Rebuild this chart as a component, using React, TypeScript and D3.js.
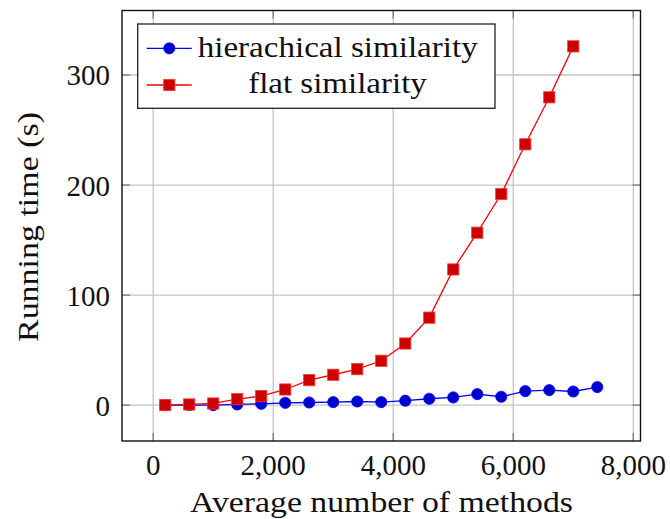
import React from "react";
import * as d3 from "d3";

// average number of methods (x) and running time in seconds (y)
const hierX = [200, 600, 1000, 1400, 1800, 2200, 2600, 3000, 3400, 3800, 4200, 4600, 5000, 5400, 5800, 6200, 6600, 7000, 7400];
const hierY = [0, 0, 0, 0.6, 1.2, 2.1, 2.4, 2.7, 3.3, 2.7, 4, 5.8, 7, 10, 7.6, 12.7, 13.6, 12.4, 16.4];
const flatX = [200, 600, 1000, 1400, 1800, 2200, 2600, 3000, 3400, 3800, 4200, 4600, 5000, 5400, 5800, 6200, 6600, 7000];
const flatY = [0, 0.6, 1.5, 5.4, 8.2, 14.2, 22.7, 27.6, 32.7, 40.3, 56, 79.5, 123.3, 156.7, 191.8, 237, 279.7, 326];

const xTicks = [0, 2000, 4000, 6000, 8000];
const yTicks = [0, 100, 200, 300];
const seriesNames = ["hierachical similarity", "flat similarity"];
const xTitle = "Average number of methods";
const yTitle = "Running time (s)";

const W = 670;
const H = 519;
const FONT = "Liberation Serif";

export default function App() {
  const left = 122, right = 640.5, top = 10.5, bottom = 441;

  // pgfplots-like enlarged limits (10% of data range)
  const xs = d3.scaleLinear().domain([-520, 8120]).range([left, right]);
  const ys = d3.scaleLinear().domain([-32.6, 358.6]).range([bottom, top]);

  const hier = hierX.map((x, i) => [x, hierY[i]] as [number, number]);
  const flat = flatX.map((x, i) => [x, flatY[i]] as [number, number]);
  const line = d3.line<[number, number]>().x(d => xs(d[0])).y(d => ys(d[1]));

  const tickLen = 8;
  const gridColor = "#c4c4c4";
  const tickColor = "#7a7a7a";
  const txt = { fontFamily: FONT, fontSize: 29, fill: "#111" };

  return (
    <svg width={W} height={H} style={{ position: "absolute", left: 0, top: 0, background: "#fff" }}>
      <rect x={0} y={0} width={W} height={H} fill="#fff" />

      {/* grid */}
      {xTicks.map(t => (
        <line key={"gx" + t} x1={xs(t)} x2={xs(t)} y1={top} y2={bottom} stroke={gridColor} strokeWidth={1.3} />
      ))}
      {yTicks.map(t => (
        <line key={"gy" + t} x1={left} x2={right} y1={ys(t)} y2={ys(t)} stroke={gridColor} strokeWidth={1.3} />
      ))}

      {/* inner ticks on all sides */}
      {xTicks.map(t => (
        <g key={"tx" + t} stroke={tickColor} strokeWidth={1.3}>
          <line x1={xs(t)} x2={xs(t)} y1={bottom} y2={bottom - tickLen} />
          <line x1={xs(t)} x2={xs(t)} y1={top} y2={top + tickLen} />
        </g>
      ))}
      {yTicks.map(t => (
        <g key={"ty" + t} stroke={tickColor} strokeWidth={1.3}>
          <line x1={left} x2={left + tickLen} y1={ys(t)} y2={ys(t)} />
          <line x1={right} x2={right - tickLen} y1={ys(t)} y2={ys(t)} />
        </g>
      ))}

      {/* series: hierarchical */}
      <path d={line(hier) || ""} fill="none" stroke="#0000ff" strokeWidth={1.3} />
      {hier.map((d, i) => (
        <circle key={"h" + i} cx={xs(d[0])} cy={ys(d[1])} r={5.6} fill="#0000cc" stroke="#0000ff" strokeWidth={0.8} />
      ))}

      {/* series: flat */}
      <path d={line(flat) || ""} fill="none" stroke="#ff0000" strokeWidth={1.3} />
      {flat.map((d, i) => (
        <rect key={"f" + i} x={xs(d[0]) - 5.6} y={ys(d[1]) - 5.6} width={11.2} height={11.2} fill="#cc0000" stroke="#ff3333" strokeWidth={0.8} />
      ))}

      {/* axis box */}
      <rect x={left} y={top} width={right - left} height={bottom - top} fill="none" stroke="#111" strokeWidth={1.4} />

      {/* tick labels */}
      {xTicks.map(t => (
        <text key={"lx" + t} x={xs(t)} y={474.5} textAnchor="middle" {...txt}>
          {d3.format(",")(t)}
        </text>
      ))}
      {yTicks.map(t => (
        <text key={"ly" + t} x={110} y={ys(t) + 10.5} textAnchor="end" {...txt}>
          {t}
        </text>
      ))}

      {/* axis titles */}
      <text x={381.5} y={511.5} textAnchor="middle" {...txt} textLength={383} lengthAdjust="spacingAndGlyphs">
        {xTitle}
      </text>
      <text transform={`translate(37.5,227) rotate(-90)`} textAnchor="middle" {...txt} textLength={230} lengthAdjust="spacingAndGlyphs">
        {yTitle}
      </text>

      {/* legend */}
      <rect x={137.7} y={24} width={357.3} height={84.3} fill="#fff" stroke="#222" strokeWidth={1.3} />
      <line x1={146.7} x2={191.7} y1={48.3} y2={48.3} stroke="#0000ff" strokeWidth={1.3} />
      <circle cx={169.3} cy={48.3} r={5.6} fill="#0000cc" stroke="#0000ff" strokeWidth={0.8} />
      <line x1={146.7} x2={191.7} y1={85} y2={85} stroke="#ff0000" strokeWidth={1.3} />
      <rect x={169.3 - 5.6} y={85 - 5.6} width={11.2} height={11.2} fill="#cc0000" stroke="#ff3333" strokeWidth={0.8} />
      <text x={197.7} y={56.7} {...txt} textLength={280} lengthAdjust="spacingAndGlyphs">
        {seriesNames[0]}
      </text>
      <text x={337.5} y={93.3} textAnchor="middle" {...txt} textLength={178.7} lengthAdjust="spacingAndGlyphs">
        {seriesNames[1]}
      </text>
    </svg>
  );
}
